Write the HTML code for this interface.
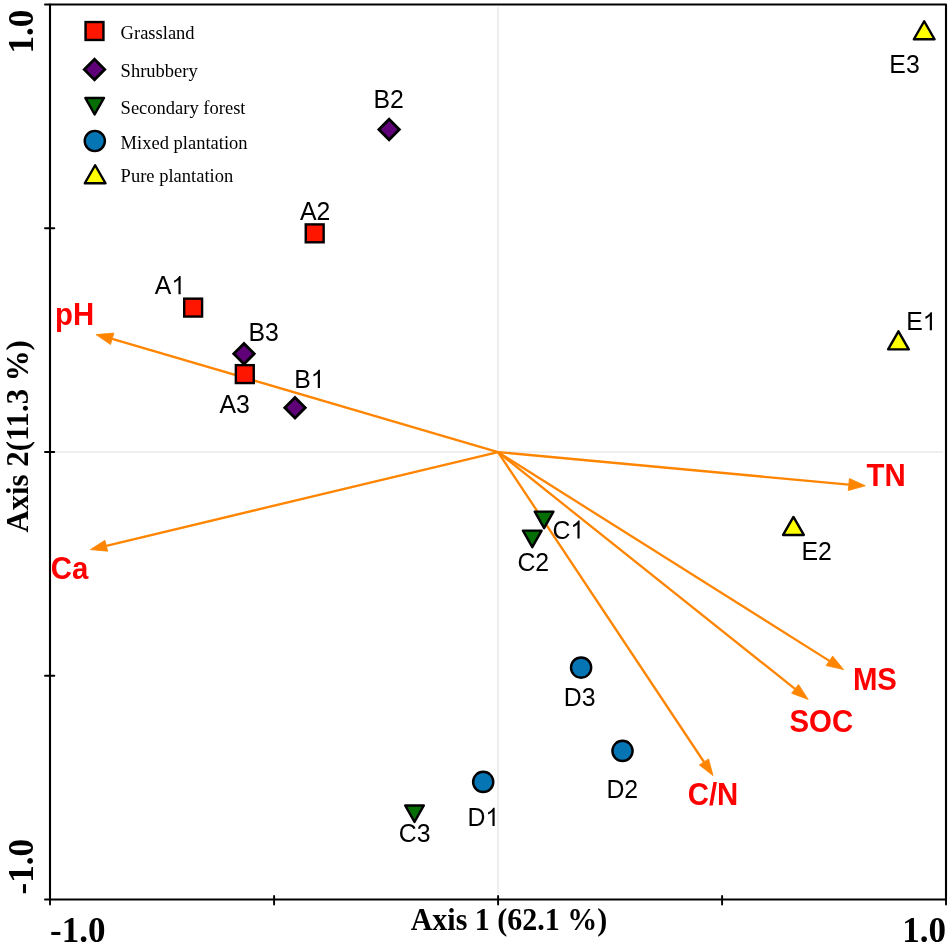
<!DOCTYPE html>
<html><head><meta charset="utf-8">
<style>
html,body{margin:0;padding:0;background:#fff;width:951px;height:948px;overflow:hidden}
svg{display:block;will-change:transform}
.sr{font-family:"Liberation Serif",serif}
.ss{font-family:"Liberation Sans",sans-serif}
</style></head><body>
<svg width="951" height="948" viewBox="0 0 951 948">
<rect x="0" y="0" width="951" height="948" fill="#fff"/>
<!-- grid -->
<line x1="498" y1="7" x2="498" y2="894" stroke="#eaeaea" stroke-width="1.6"/>
<line x1="56" y1="452" x2="943" y2="452" stroke="#eaeaea" stroke-width="1.6"/>
<!-- frame -->
<rect x="50" y="4.5" width="896" height="895" fill="none" stroke="#000" stroke-width="2.1" stroke-linejoin="round"/>
<!-- ticks -->
<g stroke="#000" stroke-width="1.9" stroke-linecap="round">
<line x1="45" y1="4.5" x2="50" y2="4.5"/>
<line x1="45" y1="228.25" x2="54.3" y2="228.25"/>
<line x1="45" y1="452" x2="54.3" y2="452"/>
<line x1="45" y1="675.8" x2="54.3" y2="675.8"/>
<line x1="45" y1="899.5" x2="50" y2="899.5"/>
<line x1="50" y1="899.5" x2="50" y2="904.5"/>
<line x1="274.1" y1="896" x2="274.1" y2="904.5"/>
<line x1="498.1" y1="896" x2="498.1" y2="904.5"/>
<line x1="722.1" y1="896" x2="722.1" y2="904.5"/>
<line x1="946" y1="899.5" x2="946" y2="904.5"/>
</g>
<!-- tick labels -->
<g class="sr" font-weight="bold" font-size="35" fill="#000">
<text x="50" y="941.5">-1.0</text>
<text x="946" y="941.5" text-anchor="end">1.0</text>
<text transform="translate(32.5,53.4) rotate(-90)">1.0</text>
<text transform="translate(32.5,894.5) rotate(-90)">-1.0</text>
</g>
<text class="sr" font-weight="bold" font-size="30" transform="translate(509,929.6) scale(1,1.03)" text-anchor="middle">Axis 1 (62.1 %)</text>
<text class="sr" font-weight="bold" font-size="30.8" transform="translate(28,436.4) rotate(-90) scale(1,1.05)" text-anchor="middle">Axis 2(11.3 %)</text>

<!-- arrows -->
<g fill="#ff8500" stroke="#ff8500">
<line x1="498" y1="452.1" x2="112.2" y2="338.8" stroke-width="2.3"/>
<polygon points="96,334.6 113.9,333.1 110.5,344.5" stroke-width="0.8" stroke-linejoin="round"/>
<line x1="498" y1="452.1" x2="106.3" y2="545.8" stroke-width="2.3"/>
<polygon points="90.4,549.6 104.9,540.3 107.7,551.2" stroke-width="0.8" stroke-linejoin="round"/>
<line x1="498" y1="452.1" x2="848.8" y2="484.6" stroke-width="2.3"/>
<polygon points="865.3,485.8 849.4,478.5 848.2,490.6" stroke-width="0.8" stroke-linejoin="round"/>
<line x1="498" y1="452.1" x2="829.4" y2="660.9" stroke-width="2.3"/>
<polygon points="843.6,669.6 832.7,656.1 826.1,665.6" stroke-width="0.8" stroke-linejoin="round"/>
<line x1="498" y1="452.1" x2="795.0" y2="688.9" stroke-width="2.3"/>
<polygon points="808.2,699.4 798.5,684.5 791.6,693.3" stroke-width="0.8" stroke-linejoin="round"/>
<line x1="498" y1="452.1" x2="704.0" y2="762.0" stroke-width="2.3"/>
<polygon points="713,775.6 708.6,758.9 699.3,765" stroke-width="0.8" stroke-linejoin="round"/>
</g>
<g class="ss" font-weight="bold" font-size="31" fill="#ff0000">
<text transform="translate(55.1,325.2) scale(.948,1)">pH</text>
<text transform="translate(50.8,579.2) scale(.948,1)">Ca</text>
<text transform="translate(866.5,486.0) scale(.948,1)">TN</text>
<text transform="translate(852.9,690.0) scale(.948,1)">MS</text>
<text transform="translate(789.5,732.0) scale(.948,1)">SOC</text>
<text transform="translate(687.7,805.3) scale(.948,1)">C/N</text>
</g>

<!-- markers -->
<g stroke="#000" stroke-width="2.4">
<g fill="#ff1600">
<rect x="184.20" y="298.65" width="17.90" height="17.90"/>
<rect x="305.75" y="224.40" width="17.90" height="17.90"/>
<rect x="235.85" y="365.15" width="17.90" height="17.90"/>
<rect x="85.55" y="22.05" width="17.90" height="17.90"/>
</g>
<g fill="#5f0078" stroke-linejoin="miter" stroke-width="2.8">
<polygon points="389.10,119.28 399.32,129.50 389.10,139.72 378.88,129.50"/>
<polygon points="244.00,343.48 254.22,353.70 244.00,363.92 233.78,353.70"/>
<polygon points="295.00,397.48 305.22,407.70 295.00,417.92 284.78,407.70"/>
<polygon points="94.50,59.28 104.72,69.50 94.50,79.72 84.28,69.50"/>
</g>
<g fill="#056e05" stroke-linejoin="round">
<polygon points="534.75,511.65 553.45,511.65 544.10,528.15"/>
<polygon points="522.95,530.65 541.65,530.65 532.30,547.15"/>
<polygon points="405.15,805.45 423.85,805.45 414.50,821.95"/>
<polygon points="85.30,97.95 104.00,97.95 94.65,114.45"/>
</g>
<g fill="#0675b4">
<circle cx="581.1" cy="667.6" r="10.1"/>
<circle cx="622.5" cy="750.9" r="10.1"/>
<circle cx="483.2" cy="781.9" r="10.1"/>
<circle cx="94.8" cy="141" r="10.1"/>
</g>
<g fill="#ffff00" stroke-linejoin="round">
<polygon points="924.20,21.25 934.55,39.25 913.85,39.25"/>
<polygon points="898.45,331.35 908.80,349.35 888.10,349.35"/>
<polygon points="793.45,516.95 803.80,534.95 783.10,534.95"/>
<polygon points="95.15,165.25 105.50,183.25 84.80,183.25"/>
</g>
</g>

<!-- point labels -->
<g class="ss" font-size="26.4" fill="#000">
<text transform="translate(300.05,219.6) scale(0.94,1)">A2</text>
<g transform="translate(154.85,294.2) scale(0.94,1)"><text>A</text><path d="M763 0H583V1147C540 1106 483 1064 413 1023C342 982 279 951 223 930V1104C323 1151 411 1208 486 1274C561 1340 614 1404 645 1466H763Z" transform="translate(17.61,0) scale(0.01289,-0.01239)"/></g>
<text transform="translate(219.45,413.2) scale(0.94,1)">A3</text>
<text transform="translate(373.51,107.7) scale(0.94,1)">B2</text>
<text transform="translate(248.56,341.0) scale(0.94,1)">B3</text>
<g transform="translate(294.16,388.0) scale(0.94,1)"><text>B</text><path d="M763 0H583V1147C540 1106 483 1064 413 1023C342 982 279 951 223 930V1104C323 1151 411 1208 486 1274C561 1340 614 1404 645 1466H763Z" transform="translate(17.61,0) scale(0.01289,-0.01239)"/></g>
<g transform="translate(552.44,538.6) scale(0.94,1)"><text>C</text><path d="M763 0H583V1147C540 1106 483 1064 413 1023C342 982 279 951 223 930V1104C323 1151 411 1208 486 1274C561 1340 614 1404 645 1466H763Z" transform="translate(19.07,0) scale(0.01289,-0.01239)"/></g>
<text transform="translate(517.44,570.8) scale(0.94,1)">C2</text>
<text transform="translate(398.84,841.9) scale(0.94,1)">C3</text>
<g transform="translate(467.46,826.0) scale(0.94,1)"><text>D</text><path d="M763 0H583V1147C540 1106 483 1064 413 1023C342 982 279 951 223 930V1104C323 1151 411 1208 486 1274C561 1340 614 1404 645 1466H763Z" transform="translate(19.07,0) scale(0.01289,-0.01239)"/></g>
<text transform="translate(606.46,797.7) scale(0.94,1)">D2</text>
<text transform="translate(563.76,706.0) scale(0.94,1)">D3</text>
<g transform="translate(906.16,330.3) scale(0.94,1)"><text>E</text><path d="M763 0H583V1147C540 1106 483 1064 413 1023C342 982 279 951 223 930V1104C323 1151 411 1208 486 1274C561 1340 614 1404 645 1466H763Z" transform="translate(17.61,0) scale(0.01289,-0.01239)"/></g>
<text transform="translate(801.46,559.7) scale(0.94,1)">E2</text>
<text transform="translate(889.36,73.2) scale(0.94,1)">E3</text>
</g>

<!-- legend text -->
<g class="sr" font-size="19" fill="#000">
<text transform="translate(120.6,38.7) scale(.975,1)">Grassland</text>
<text transform="translate(120.6,76.9) scale(.975,1)">Shrubbery</text>
<text transform="translate(120.6,113.9) scale(.975,1)">Secondary forest</text>
<text transform="translate(120.6,148.6) scale(.975,1)">Mixed plantation</text>
<text transform="translate(120.6,182.1) scale(.975,1)">Pure plantation</text>
</g>
</svg>
</body></html>
